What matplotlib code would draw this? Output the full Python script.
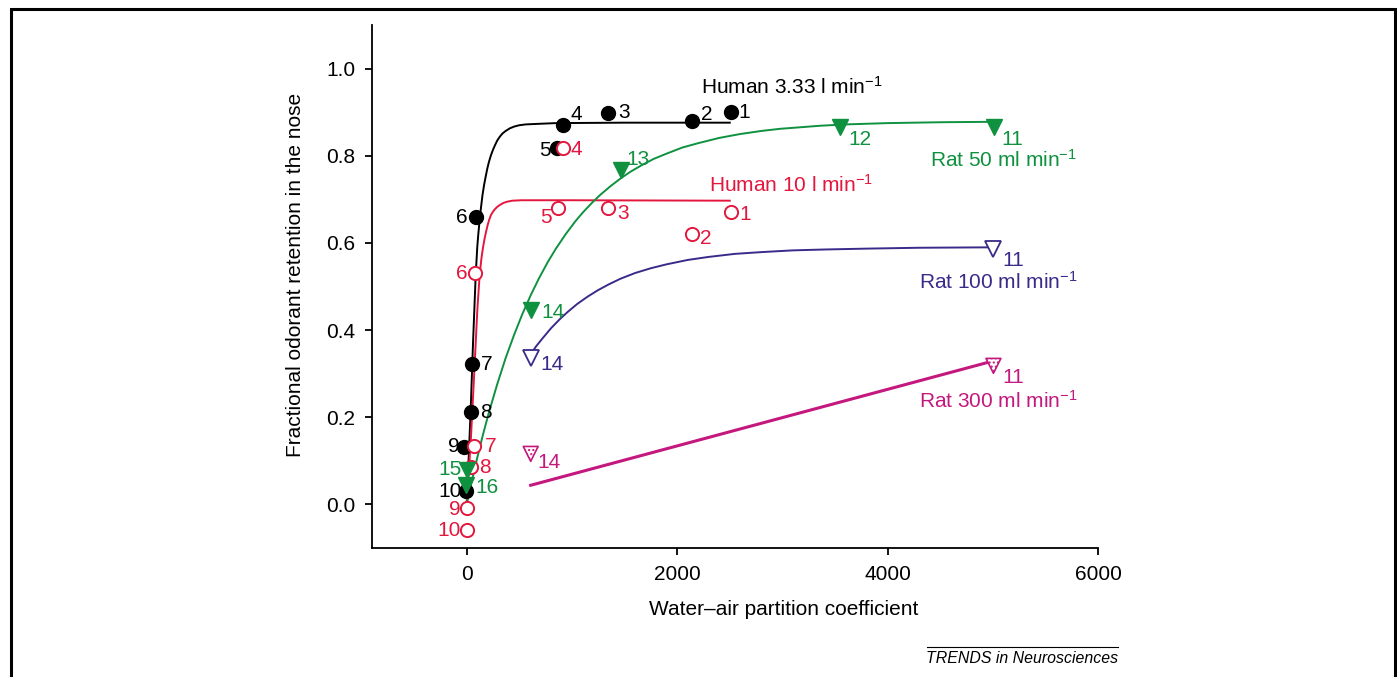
import matplotlib.pyplot as plt
from matplotlib.patches import Rectangle
from matplotlib.lines import Line2D

plt.rcParams['font.family'] = ['Liberation Sans', 'DejaVu Sans']
plt.rcParams['mathtext.fontset'] = 'custom'
plt.rcParams['mathtext.rm'] = 'Liberation Sans'
plt.rcParams['mathtext.default'] = 'regular'

# ---- data ----
h333_x = [2516, 2140, 1345, 911, 861, 85, 54, 38, -25, -9]
h333_y = [0.900, 0.880, 0.899, 0.870, 0.817, 0.660, 0.322, 0.212, 0.132, 0.030]
h333_id = ['1', '2', '3', '4', '5', '6', '7', '8', '9', '10']

h10_x = [2513, 2143, 1341, 918, 867, 79, 69, 38, 7, 7]
h10_y = [0.670, 0.620, 0.680, 0.817, 0.680, 0.531, 0.134, 0.086, -0.009, -0.059]
h10_id = ['1', '2', '3', '4', '5', '6', '7', '8', '9', '10']

r50_x = [5010, 3551, 1471, 608, 5, -10]
r50_y = [0.865, 0.865, 0.767, 0.446, 0.080, 0.044]
r50_id = ['11', '12', '13', '14', '15', '16']

r100_x = [5006, 608]
r100_y = [0.586, 0.337]
r100_id = ['11', '14']

r300_x = [5006, 608]
r300_y = [0.318, 0.116]
r300_id = ['11', '14']

# fitted curves
h333_fit_x = [0, 38, 60, 85, 100, 110, 123, 135, 150, 165, 180, 195, 210, 230, 250, 270, 290,
              315, 339, 370, 410, 450, 497, 560, 650, 845, 1500, 2500]
h333_fit_y = [0.0, 0.219, 0.371, 0.524, 0.59, 0.62, 0.653, 0.68, 0.71, 0.733, 0.752, 0.770,
              0.785, 0.801, 0.814, 0.825, 0.835, 0.844, 0.851, 0.857, 0.863, 0.867, 0.870,
              0.872, 0.873, 0.875, 0.876, 0.876]
h10_fit_x = [0, 38, 70, 101, 123, 140, 155, 170, 185, 200, 212, 230, 250, 270, 291, 320, 350,
             390, 434, 520, 1000, 2500]
h10_fit_y = [0.005, 0.143, 0.295, 0.447, 0.527, 0.565, 0.59, 0.61, 0.627, 0.642, 0.652, 0.664,
             0.672, 0.678, 0.683, 0.688, 0.692, 0.695, 0.697, 0.698, 0.698, 0.697]
r50_fit_x = [0, 50, 100, 150, 212, 290, 370, 450, 529, 610, 687, 770, 845, 940, 1030, 1100,
             1190, 1272, 1370, 1462, 1560, 1660, 1778, 1900, 2050, 2200, 2400, 2600, 2800,
             2981, 3200, 3361, 3600, 4000, 4500, 5000]
r50_fit_y = [0.0, 0.055, 0.107, 0.156, 0.212, 0.276, 0.336, 0.389, 0.437, 0.481, 0.519, 0.556,
             0.586, 0.620, 0.649, 0.669, 0.692, 0.711, 0.731, 0.748, 0.764, 0.778, 0.793,
             0.805, 0.819, 0.829, 0.841, 0.850, 0.857, 0.862, 0.866, 0.869, 0.872, 0.875,
             0.877, 0.878]
r100_fit_x = [608, 660, 720, 800, 880, 956, 1050, 1150, 1250, 1350, 1462, 1600, 1750, 1900,
              2100, 2300, 2550, 2800, 3100, 3400, 3800, 4300, 5000]
r100_fit_y = [0.345, 0.363, 0.381, 0.404, 0.424, 0.441, 0.460, 0.477, 0.492, 0.505, 0.518,
              0.531, 0.542, 0.551, 0.561, 0.568, 0.575, 0.579, 0.583, 0.585, 0.587, 0.589, 0.590]
r300_fit_x = [608, 5000]
r300_fit_y = [0.044, 0.329]

BLACK = '#000000'
RED = '#e3173e'
GREEN = '#0f9140'
INDIGO = '#3a2a8a'
MAGENTA = '#c4187f'
FS = 15

fig = plt.figure(figsize=(13.97, 6.77), dpi=100)
ax = fig.add_axes([0.2663, 0.1905, 0.5197, 0.7725])

# curves
for fx, fy, col, lw in [(h333_fit_x, h333_fit_y, BLACK, 1.4),
                        (h10_fit_x, h10_fit_y, RED, 1.4),
                        (r50_fit_x, r50_fit_y, GREEN, 1.4),
                        (r100_fit_x, r100_fit_y, INDIGO, 1.4),
                        (r300_fit_x, r300_fit_y, MAGENTA, 2.2)]:
    ax.plot(fx, fy, color=col, lw=lw, solid_joinstyle='round', zorder=2)

# points
ax.plot(h333_x, h333_y, 'o', color=BLACK, ms=10, zorder=3)
ax.plot(h10_x, h10_y, 'o', mfc='white', mec=RED, mew=1.4, ms=9.5, zorder=4)
ax.plot(r50_x, r50_y, 'v', color=GREEN, ms=11, zorder=5)
ax.plot(r100_x, r100_y, 'v', mfc='white', mec=INDIGO, mew=1.3, ms=11, zorder=4)
ax.scatter(r300_x, r300_y, marker='v', s=115, facecolor='white', edgecolor=MAGENTA,
           linewidths=1.2, hatch='....', zorder=4)

# point number labels: offsets in pixels
h333_off = [(13, 0), (15, 6), (16, 0), (14, 11), (-12, -2), (-14, -1), (14, 0), (15, 0), (-10, 0), (-16, 0)]
h10_off = [(14, -2), (14, -4), (15, -5), (13, -1), (-12, -9), (-13, 0), (17, 0), (14, -1), (-13, -1), (-18, 0)]
r50_off = [(18, -12), (20, -12), (17, 11), (22, -2), (-17, 0), (21, -2)]
r100_off = [(20, -11), (21, -7)]
r300_off = [(20, -12), (18, -9)]

for xs, ys, ids, offs, col in [(h333_x, h333_y, h333_id, h333_off, BLACK),
                               (h10_x, h10_y, h10_id, h10_off, RED),
                               (r50_x, r50_y, r50_id, r50_off, GREEN),
                               (r100_x, r100_y, r100_id, r100_off, INDIGO),
                               (r300_x, r300_y, r300_id, r300_off, MAGENTA)]:
    for x, y, t, o in zip(xs, ys, ids, offs):
        ax.annotate(t, (x, y), xytext=o, textcoords='offset pixels', ha='center',
                    va='center', color=col, fontsize=FS, zorder=6)

# series labels
ax.text(2231, 0.943, r'Human 3.33 l min$^{-1}$', color=BLACK, fontsize=FS, ha='left', va='baseline')
ax.text(2298, 0.717, r'Human 10 l min$^{-1}$', color=RED, fontsize=FS, ha='left', va='baseline')
ax.text(5801, 0.774, r'Rat 50 ml min$^{-1}$', color=GREEN, fontsize=FS, ha='right', va='baseline')
ax.text(5801, 0.495, r'Rat 100 ml min$^{-1}$', color=INDIGO, fontsize=FS, ha='right', va='baseline')
ax.text(5801, 0.221, r'Rat 300 ml min$^{-1}$', color=MAGENTA, fontsize=FS, ha='right', va='baseline')

ax.set_xlim(-900, 6000)
ax.set_ylim(-0.1, 1.1)
ax.set_xticks([0, 2000, 4000, 6000])
ax.set_yticks([0.0, 0.2, 0.4, 0.6, 0.8, 1.0])
ax.set_yticklabels(['0.0', '0.2', '0.4', '0.6', '0.8', '1.0'])
for s in ['top', 'right']:
    ax.spines[s].set_visible(False)
for s in ['left', 'bottom']:
    ax.spines[s].set_linewidth(1.3)
ax.tick_params(direction='out', length=5, width=1.3, pad=7, labelsize=FS)
ax.set_xlabel('Water\u2013air partition coefficient', fontsize=FS)
ax.set_ylabel('Fractional odorant retention in the nose', fontsize=FS)
ax.xaxis.set_label_coords(0.5675, -0.0996)
ax.yaxis.set_label_coords(-0.0925, 0.522)

# frame and source line
fig.patches.append(Rectangle((0.0081, -0.05), 0.9905, 0.9863 + 0.05, transform=fig.transFigure,
                             fill=False, lw=2.2, edgecolor='black'))
fig.lines.append(Line2D([927 / 1397, 1118 / 1397], [0.0448, 0.0448], transform=fig.transFigure,
                        color='black', lw=0.8))
fig.text(1118 / 1397, 0.0207, 'TRENDS in Neurosciences', fontsize=11.4, style='italic',
         ha='right', va='baseline')

fig.savefig('out.png', dpi=100)
